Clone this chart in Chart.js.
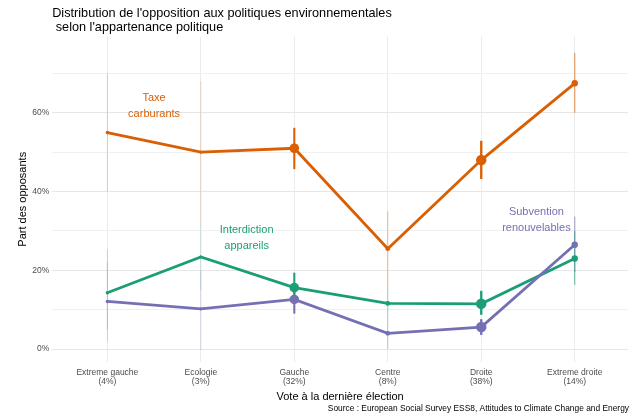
<!DOCTYPE html>
<html>
<head>
<meta charset="utf-8">
<script src="https://cdn.jsdelivr.net/npm/chart.js@4/dist/chart.umd.min.js"></script>
<style>
  body { margin: 0; background: #fff; }
  #wrap { width: 632px; height: 414px; }
</style>
</head>
<body>
<div id="wrap"><canvas id="chart"></canvas></div>
<script>
// categories and weight of each group in the sample
const categories = ["Extreme gauche", "Ecologie", "Gauche", "Centre", "Droite", "Extreme droite"];
const shares = [4, 3, 32, 8, 38, 14];

// share of opponents (%) and confidence intervals
const taxe = [55.0, 50.0, 51.0, 25.5, 48.0, 67.5];
const taxeLow = [40, 32, 45.7, 15.8, 43.2, 60];
const taxeHigh = [70, 68, 56.2, 35, 52.9, 75.2];

const interdiction = [14.3, 23.4, 15.6, 11.6, 11.5, 23.0];
const interdictionLow = [5, 15, 12, 9, 8.7, 16.3];
const interdictionHigh = [25.3, 32, 19.4, 15.8, 14.8, 30];

const subvention = [12.1, 10.2, 12.6, 4.0, 5.6, 26.5];
const subventionLow = [2, -0.3, 9, 0, 3.6, 19.5];
const subventionHigh = [22, 20, 15.8, 9, 7.6, 33.7];

const yTicks = [0, 10, 20, 30, 40, 50, 60, 70];

const series = [
  { name: ["Subvention", "renouvelables"], values: subvention, low: subventionLow, high: subventionHigh, color: "117,112,179", at: [4.59, 32.9] },
  { name: ["Interdiction", "appareils"], values: interdiction, low: interdictionLow, high: interdictionHigh, color: "27,158,119", at: [1.49, 28.1] },
  { name: ["Taxe", "carburants"], values: taxe, low: taxeLow, high: taxeHigh, color: "217,95,2", at: [0.5, 61.8] }
];

const FONT = '"Liberation Sans", Arial, sans-serif';

const errorBars = {
  id: 'errorBars',
  beforeDatasetsDraw(chart) {
    const {ctx, scales: {x, y}} = chart;
    ctx.save();
    series.forEach(s => {
      s.low.forEach((lo, i) => {
        const px = x.getPixelForValue(i);
        ctx.strokeStyle = `rgba(${s.color},${Math.min(1, 0.22 + shares[i] / 40)})`;
        ctx.lineWidth = 0.6 + shares[i] / 22;
        ctx.beginPath();
        ctx.moveTo(px, y.getPixelForValue(lo));
        ctx.lineTo(px, y.getPixelForValue(s.high[i]));
        ctx.stroke();
      });
    });
    ctx.restore();
  },
  afterDatasetsDraw(chart) {
    const {ctx, scales: {x, y}} = chart;
    ctx.save();
    ctx.font = '11px ' + FONT;
    ctx.textAlign = 'center';
    ctx.textBaseline = 'middle';
    series.forEach(s => {
      const px = x.getPixelForValue(s.at[0]);
      const py = y.getPixelForValue(s.at[1]);
      ctx.fillStyle = `rgb(${s.color})`;
      ctx.fillText(s.name[0], px, py - 8);
      ctx.fillText(s.name[1], px, py + 8);
    });
    ctx.restore();
  }
};

new Chart(document.getElementById('chart'), {
  type: 'line',
  data: {
    datasets: series.map(s => ({
      label: s.name.join(' '),
      data: s.values.map((v, i) => ({x: i, y: v})),
      borderColor: `rgb(${s.color})`,
      backgroundColor: `rgb(${s.color})`,
      borderWidth: 2.8,
      pointRadius: shares.map(p => 0.85 * Math.sqrt(p)),
      pointBorderWidth: 0,
      tension: 0
    }))
  },
  options: {
    responsive: true,
    maintainAspectRatio: false,
    animation: false,
    layout: { padding: { left: 16, right: 3, top: 2, bottom: 0 } },
    plugins: {
      legend: { display: false },
      tooltip: { enabled: false },
      title: {
        display: true,
        text: ["Distribution de l'opposition aux politiques environnementales", " selon l'appartenance politique"],
        align: 'start',
        fullSize: false,
        color: '#000',
        font: { family: FONT, size: 12.7, weight: 'normal', lineHeight: 1.12 },
        padding: { top: 4, bottom: 2 }
      },
      subtitle: {
        display: true,
        position: 'bottom',
        align: 'end',
        text: 'Source : European Social Survey ESS8, Attitudes to Climate Change and Energy',
        color: '#000',
        font: { family: FONT, size: 8.4 },
        padding: { top: 1, bottom: 0 }
      }
    },
    scales: {
      x: {
        type: 'linear',
        min: -0.59,
        max: 5.57,
        afterBuildTicks: scale => { scale.ticks = categories.map((c, i) => ({value: i})); },
        ticks: {
          autoSkip: false,
          maxRotation: 0,
          padding: 6,
          color: '#4d4d4d',
          font: { family: FONT, size: 8.5, lineHeight: 1.05 },
          callback: v => [categories[v], '(' + shares[v] + '%)']
        },
        grid: { color: '#ebebeb', drawTicks: false },
        border: { display: false },
        title: {
          display: true,
          text: 'Vote à la dernière élection',
          color: '#000',
          font: { family: FONT, size: 11, lineHeight: 1.0 },
          padding: { top: 0, bottom: 0 }
        }
      },
      y: {
        min: -3.3,
        max: 79.4,
        afterBuildTicks: scale => { scale.ticks = yTicks.map(v => ({value: v})); },
        ticks: {
          padding: 3,
          color: '#4d4d4d',
          font: { family: FONT, size: 8.5 },
          callback: v => v % 20 === 0 ? v + '%' : ''
        },
        grid: {
          color: ctx => ctx.tick && ctx.tick.value % 20 === 0 ? '#e6e6e6' : '#f0f0f0',
          drawTicks: false
        },
        border: { display: false },
        title: {
          display: true,
          text: 'Part des opposants',
          color: '#000',
          font: { family: FONT, size: 11 },
          padding: { top: 0, bottom: 0 }
        }
      }
    }
  },
  plugins: [errorBars]
});
</script>
</body>
</html>
